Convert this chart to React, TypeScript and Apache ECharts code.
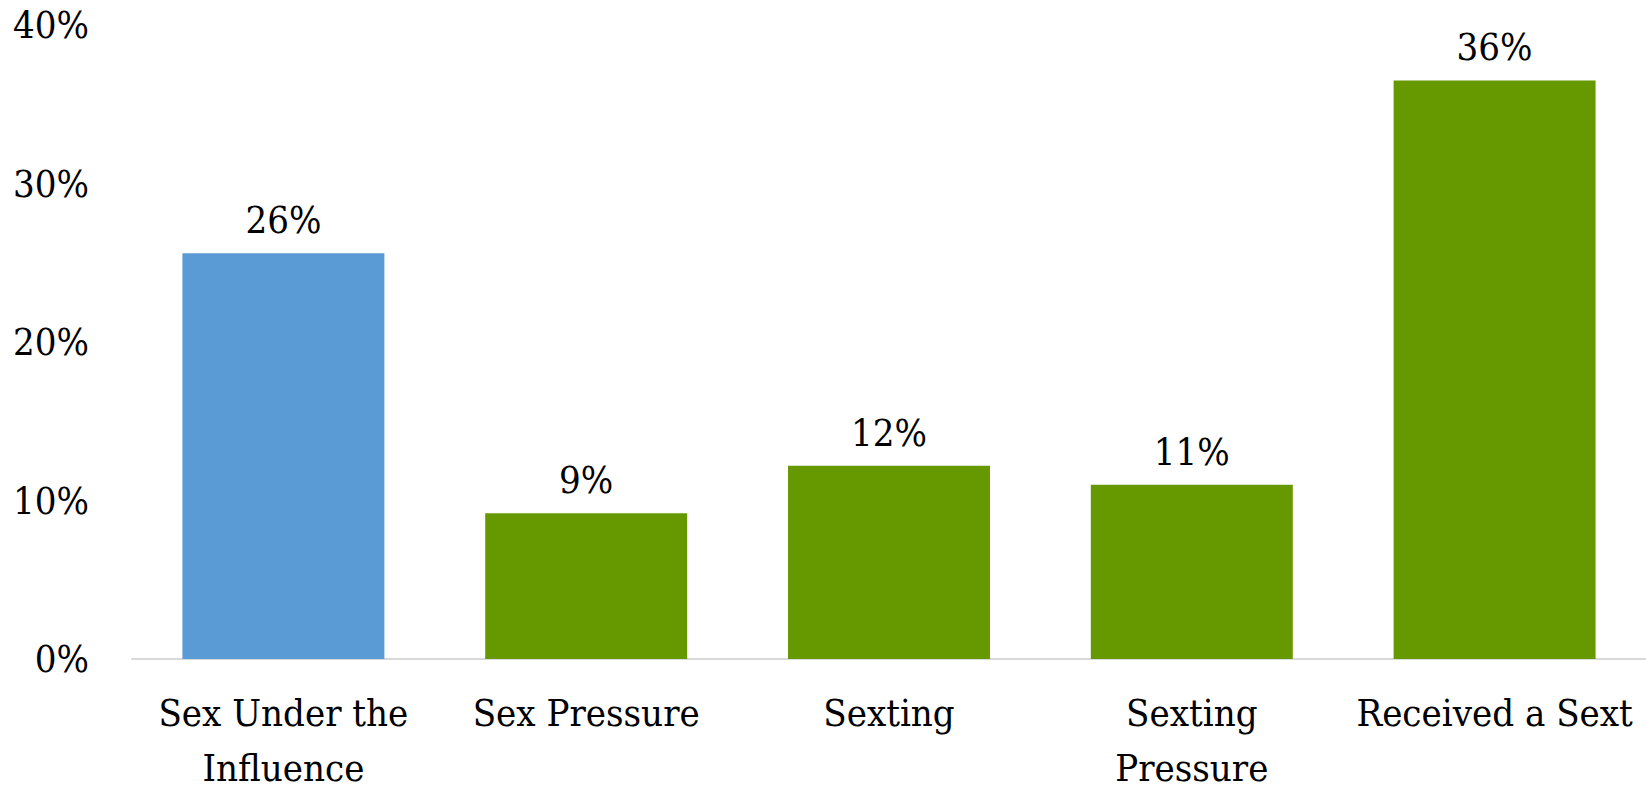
import React, { useEffect, useRef } from "react";
import * as echarts from "echarts";

const categories = [
  "Sex Under the\nInfluence",
  "Sex Pressure",
  "Sexting",
  "Sexting\nPressure",
  "Received a Sext",
];
const values = [25.6, 9.2, 12.2, 11.0, 36.5];
const labels = ["26%", "9%", "12%", "11%", "36%"];
const barColors = ["#5B9BD5", "#669900", "#669900", "#669900", "#669900"];
const yTicks = { min: 0, max: 40, interval: 10 };

export default function App() {
  const ref = useRef<HTMLDivElement>(null);
  useEffect(() => {
    if (!ref.current) return;
    const chart = echarts.init(ref.current, null, { renderer: "svg" });
    const font = "DejaVu Serif Condensed";
    chart.setOption({
      animation: false,
      textStyle: { fontFamily: font },
      grid: {
        left: 132,
        right: 0,
        top: 25,
        bottom: 130,
        containLabel: false,
        outerBoundsMode: "none",
      },
      xAxis: {
        type: "category",
        data: categories,
        axisLine: { show: true, lineStyle: { color: "#D9D9D9", width: 2 } },
        axisTick: { show: false },
        axisLabel: {
          interval: 0,
          margin: 26,
          color: "#000",
          fontFamily: font,
          fontSize: 38,
          lineHeight: 55,
        },
      },
      yAxis: {
        type: "value",
        min: yTicks.min,
        max: yTicks.max,
        interval: yTicks.interval,
        axisLine: { show: false },
        axisTick: { show: false },
        splitLine: { show: false },
        axisLabel: {
          margin: 43,
          color: "#000",
          fontFamily: font,
          fontSize: 38,
          formatter: "{value}%",
        },
      },
      series: [
        {
          type: "bar",
          barCategoryGap: "33.3%",
          data: values.map((v, i) => ({
            value: v,
            itemStyle: { color: barColors[i] },
          })),
          label: {
            show: true,
            position: "top",
            distance: 14,
            color: "#000",
            fontFamily: font,
            fontSize: 38,
            formatter: (p: any) => labels[p.dataIndex],
          },
        },
      ],
    });
    return () => chart.dispose();
  }, []);
  return (
    <div
      ref={ref}
      style={{ position: "absolute", left: 0, top: 0, width: 1646, height: 789 }}
    />
  );
}
